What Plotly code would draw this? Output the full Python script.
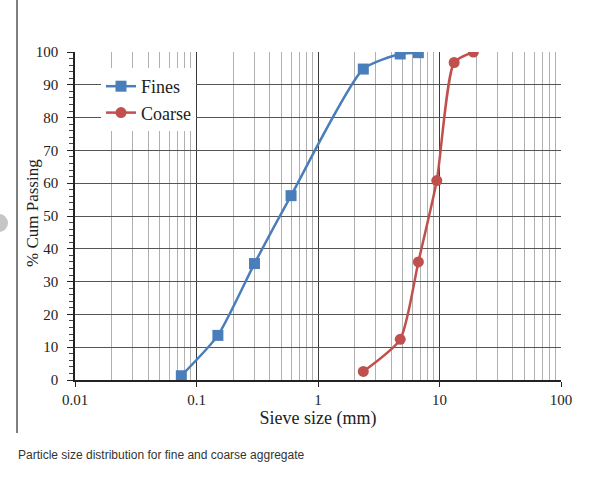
import plotly.graph_objects as go

# Data
fines_size = [0.075, 0.15, 0.3, 0.6, 2.36, 4.75, 6.7]
fines_pass = [1.3, 13.6, 35.5, 56.2, 94.8, 99.4, 99.8]
coarse_size = [2.36, 4.75, 6.7, 9.5, 13.2, 19.0]
coarse_pass = [2.6, 12.4, 36.0, 60.8, 96.8, 100.0]

y_ticks = [0, 10, 20, 30, 40, 50, 60, 70, 80, 90, 100]
x_ticks = [0.01, 0.1, 1, 10, 100]
x_tick_labels = ["0.01", "0.1", "1", "10", "100"]

serif = "Liberation Serif, Times New Roman, serif"

fig = go.Figure()
fig.add_trace(go.Scatter(
    x=fines_size, y=fines_pass, name="Fines", mode="lines+markers",
    line=dict(color="#4A7EBB", width=2.5, shape="spline", smoothing=0.6),
    marker=dict(symbol="square", size=11, color="#4A7EBB"),
))
fig.add_trace(go.Scatter(
    x=coarse_size, y=coarse_pass, name="Coarse", mode="lines+markers",
    line=dict(color="#C0504D", width=2.5, shape="spline", smoothing=0.6),
    marker=dict(symbol="circle", size=11, color="#C0504D"),
))

L, R, T, B = 75, 561, 52, 380
W, H = 600, 478
pw, ph = R - L, B - T

def px(xp):
    return (xp - L) / pw

def py(yp):
    return (B - yp) / ph

fig.update_layout(
    width=W, height=H,
    margin=dict(l=L, r=W - R, t=T, b=H - B),
    paper_bgcolor="white", plot_bgcolor="white",
    showlegend=True,
    legend=dict(
        x=px(101), y=py(68), xanchor="left", yanchor="top",
        bgcolor="white", borderwidth=0,
        font=dict(family=serif, size=18, color="#222"),
        tracegroupgap=0, itemwidth=30,
    ),
    font=dict(family=serif, color="#222"),
    xaxis=dict(
        type="log", range=[-2, 2],
        tickvals=x_ticks, ticktext=x_tick_labels,
        tickfont=dict(family=serif, size=15, color="#222"),
        showgrid=True, gridcolor="#3a3a3a", gridwidth=1,
        minor=dict(showgrid=True, gridcolor="#b0b0b0", gridwidth=1, dtick="D1", ticks=""),
        showline=True, linecolor="#222", linewidth=1.5,
        ticks="outside", ticklen=5, tickcolor="#222",
        zeroline=False,
        title=dict(text="Sieve size (mm)", font=dict(family=serif, size=18, color="#222"), standoff=0),
    ),
    yaxis=dict(
        range=[0, 100], tickvals=y_ticks,
        tickfont=dict(family=serif, size=15, color="#222"),
        ticklabelstandoff=6,
        showgrid=True, gridcolor="#555555", gridwidth=1,
        minor=dict(dtick=2, ticks="outside", ticklen=4, tickcolor="#444", showgrid=False),
        showline=True, linecolor="#222", linewidth=1.5,
        ticks="outside", ticklen=6, tickcolor="#222",
        zeroline=False,
    ),
    shapes=[
        dict(type="line", xref="paper", yref="paper",
             x0=px(17), x1=px(17), y0=py(0), y1=py(433),
             line=dict(color="#555", width=1.5)),
        dict(type="circle", xref="paper", yref="paper",
             x0=px(-10), x1=px(8), y0=py(214), y1=py(232),
             fillcolor="#c6c6c6", line=dict(width=0)),
    ],
    annotations=[
        dict(text="% Cum Passing", textangle=-90,
             xref="paper", yref="paper", x=px(32), y=py(213),
             xanchor="center", yanchor="middle", showarrow=False,
             font=dict(family=serif, size=17, color="#222")),
        dict(text="Particle size distribution for fine and coarse aggregate",
             xref="paper", yref="paper", x=px(16), y=py(455),
             xanchor="left", yanchor="middle", showarrow=False,
             font=dict(family="Liberation Sans, Arial, sans-serif", size=12, color="#333")),
    ],
)

fig.write_html("out.html")
